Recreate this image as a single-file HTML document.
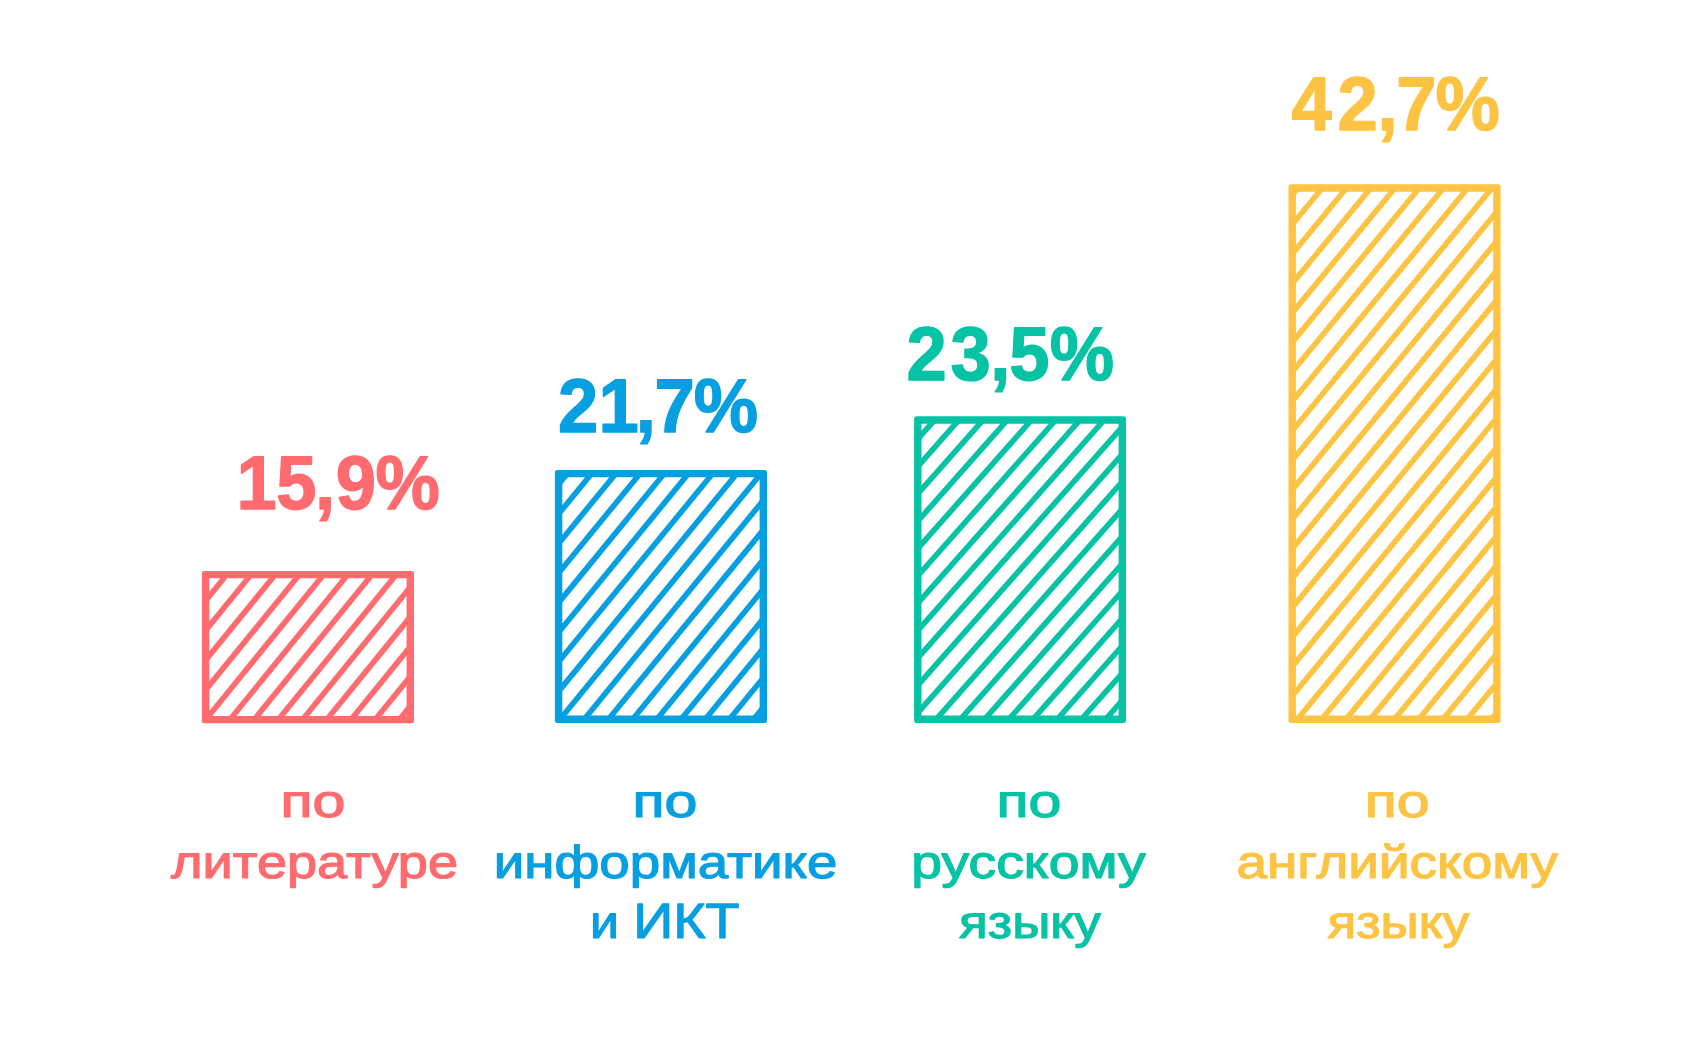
<!DOCTYPE html>
<html lang="ru"><head><meta charset="utf-8">
<style>
html,body{margin:0;padding:0;background:#ffffff;}
body{width:1706px;height:1049px;overflow:hidden;}
svg{display:block;}
svg text{font-family:"Liberation Sans",sans-serif;font-weight:700;stroke-linejoin:round;white-space:pre;text-rendering:geometricPrecision;}
</style></head><body>
<svg width="1706" height="1049" viewBox="0 0 1706 1049">
<rect width="1706" height="1049" fill="#ffffff"/>
<clipPath id="cp0"><rect x="208.30" y="577.30" width="199.30" height="139.60"/></clipPath>
<path d="M75.54 730.90L211.80 563.30M99.74 730.90L236.00 563.30M123.95 730.90L260.21 563.30M148.15 730.90L284.41 563.30M172.36 730.90L308.62 563.30M196.56 730.90L332.82 563.30M220.77 730.90L357.03 563.30M244.97 730.90L381.23 563.30M269.18 730.90L405.44 563.30M293.38 730.90L429.64 563.30M317.59 730.90L453.85 563.30M341.79 730.90L478.05 563.30M366.00 730.90L502.26 563.30M390.20 730.90L526.46 563.30" stroke="#ff6b6e" stroke-width="5.6" fill="none" clip-path="url(#cp0)"/>
<path d="M204.40 570.90H411.50A2.5 2.5 0 0 1 414.00 573.40V720.80A2.5 2.5 0 0 1 411.50 723.30H204.40A2.5 2.5 0 0 1 201.90 720.80V573.40A2.5 2.5 0 0 1 204.40 570.90ZM209.30 578.30V715.90H406.60V578.30Z" fill="#ff6b6e" fill-rule="evenodd"/>
<clipPath id="cp1"><rect x="561.30" y="476.30" width="199.30" height="240.30"/></clipPath>
<path d="M357.17 730.60L576.64 462.30M381.37 730.60L600.84 462.30M405.57 730.60L625.04 462.30M429.77 730.60L649.24 462.30M453.97 730.60L673.44 462.30M478.17 730.60L697.64 462.30M502.37 730.60L721.84 462.30M526.57 730.60L746.04 462.30M550.77 730.60L770.24 462.30M574.97 730.60L794.44 462.30M599.17 730.60L818.64 462.30M623.37 730.60L842.84 462.30M647.57 730.60L867.04 462.30M671.77 730.60L891.24 462.30M695.97 730.60L915.44 462.30M720.17 730.60L939.64 462.30M744.37 730.60L963.84 462.30" stroke="#069fe1" stroke-width="5.6" fill="none" clip-path="url(#cp1)"/>
<path d="M557.40 469.90H764.50A2.5 2.5 0 0 1 767.00 472.40V720.50A2.5 2.5 0 0 1 764.50 723.00H557.40A2.5 2.5 0 0 1 554.90 720.50V472.40A2.5 2.5 0 0 1 557.40 469.90ZM562.30 477.30V715.60H759.60V477.30Z" fill="#069fe1" fill-rule="evenodd"/>
<clipPath id="cp2"><rect x="920.50" y="422.70" width="199.10" height="293.80"/></clipPath>
<path d="M635.66 730.50L920.43 408.70M659.87 730.50L944.65 408.70M684.09 730.50L968.86 408.70M708.30 730.50L993.08 408.70M732.52 730.50L1017.29 408.70M756.73 730.50L1041.51 408.70M780.95 730.50L1065.72 408.70M805.16 730.50L1089.94 408.70M829.38 730.50L1114.15 408.70M853.59 730.50L1138.37 408.70M877.81 730.50L1162.58 408.70M902.02 730.50L1186.80 408.70M926.24 730.50L1211.01 408.70M950.45 730.50L1235.23 408.70M974.67 730.50L1259.44 408.70M998.88 730.50L1283.66 408.70M1023.10 730.50L1307.87 408.70M1047.31 730.50L1332.09 408.70M1071.53 730.50L1356.30 408.70M1095.74 730.50L1380.52 408.70M1119.96 730.50L1404.73 408.70" stroke="#05c3a4" stroke-width="5.6" fill="none" clip-path="url(#cp2)"/>
<path d="M916.60 416.30H1123.50A2.5 2.5 0 0 1 1126.00 418.80V720.40A2.5 2.5 0 0 1 1123.50 722.90H916.60A2.5 2.5 0 0 1 914.10 720.40V418.80A2.5 2.5 0 0 1 916.60 416.30ZM921.50 423.70V715.50H1118.60V423.70Z" fill="#05c3a4" fill-rule="evenodd"/>
<clipPath id="cp3"><rect x="1294.90" y="190.65" width="199.30" height="525.95"/></clipPath>
<path d="M851.59 730.60L1307.33 176.65M875.84 730.60L1331.58 176.65M900.09 730.60L1355.83 176.65M924.34 730.60L1380.08 176.65M948.59 730.60L1404.33 176.65M972.84 730.60L1428.58 176.65M997.09 730.60L1452.83 176.65M1021.34 730.60L1477.08 176.65M1045.59 730.60L1501.33 176.65M1069.84 730.60L1525.58 176.65M1094.09 730.60L1549.83 176.65M1118.34 730.60L1574.08 176.65M1142.59 730.60L1598.33 176.65M1166.84 730.60L1622.58 176.65M1191.09 730.60L1646.83 176.65M1215.34 730.60L1671.08 176.65M1239.59 730.60L1695.33 176.65M1263.84 730.60L1719.58 176.65M1288.09 730.60L1743.83 176.65M1312.34 730.60L1768.08 176.65M1336.59 730.60L1792.33 176.65M1360.84 730.60L1816.58 176.65M1385.09 730.60L1840.83 176.65M1409.34 730.60L1865.08 176.65M1433.59 730.60L1889.33 176.65M1457.84 730.60L1913.58 176.65M1482.09 730.60L1937.83 176.65" stroke="#fdc342" stroke-width="5.6" fill="none" clip-path="url(#cp3)"/>
<path d="M1291.00 184.25H1498.10A2.5 2.5 0 0 1 1500.60 186.75V720.50A2.5 2.5 0 0 1 1498.10 723.00H1291.00A2.5 2.5 0 0 1 1288.50 720.50V186.75A2.5 2.5 0 0 1 1291.00 184.25ZM1295.90 191.65V715.60H1493.20V191.65Z" fill="#fdc342" fill-rule="evenodd"/>
<text transform="scale(0.9500 1)" x="248.85 290.88 331.49 353.50 395.27" y="509.20" font-size="76.16" fill="#ff6b6e" stroke="#ff6b6e" stroke-width="1.40">15,9%</text>
<text transform="scale(0.9500 1)" x="587.32 630.02 669.22 689.07 730.32" y="431.80" font-size="76.16" fill="#069fe1" stroke="#069fe1" stroke-width="1.40">21,7%</text>
<text transform="scale(0.9500 1)" x="954.16 1000.64 1042.28 1062.48 1104.96" y="380.40" font-size="76.16" fill="#05c3a4" stroke="#05c3a4" stroke-width="1.40">23,5%</text>
<text transform="scale(0.9500 1)" x="1359.55 1407.97 1449.91 1469.70 1510.96" y="130.00" font-size="76.16" fill="#fdc342" stroke="#fdc342" stroke-width="1.40">42,7%</text>
<text transform="scale(1.2791 1)" x="219.37" y="817.10" font-size="46.19" font-weight="400" style="font-weight:400" fill="#ff6b6e" stroke="#ff6b6e" stroke-width="1.20">по</text>
<text transform="scale(1.1713 1)" x="145.99" y="877.80" font-size="46.19" font-weight="400" style="font-weight:400" fill="#ff6b6e" stroke="#ff6b6e" stroke-width="1.20">литературе</text>
<text transform="scale(1.2791 1)" x="494.55" y="817.10" font-size="46.19" font-weight="400" style="font-weight:400" fill="#069fe1" stroke="#069fe1" stroke-width="1.20">по</text>
<text transform="scale(1.1829 1)" x="417.40" y="877.80" font-size="46.19" font-weight="400" style="font-weight:400" fill="#069fe1" stroke="#069fe1" stroke-width="1.20">информатике</text>
<text transform="scale(1.1217 1)" x="525.90" y="937.80" font-size="46.19" font-weight="400" style="font-weight:400" fill="#069fe1" stroke="#069fe1" stroke-width="1.20">и <tspan font-size="49.56">ИКТ</tspan></text>
<text transform="scale(1.2791 1)" x="779.12" y="817.10" font-size="46.19" font-weight="400" style="font-weight:400" fill="#05c3a4" stroke="#05c3a4" stroke-width="1.20">по</text>
<text transform="scale(1.1985 1)" x="760.32" y="877.80" font-size="46.19" font-weight="400" style="font-weight:400" fill="#05c3a4" stroke="#05c3a4" stroke-width="1.20">русскому</text>
<text transform="scale(1.1508 1)" x="833.32" y="937.80" font-size="46.19" font-weight="400" style="font-weight:400" fill="#05c3a4" stroke="#05c3a4" stroke-width="1.20">языку</text>
<text transform="scale(1.2791 1)" x="1067.04" y="817.10" font-size="46.19" font-weight="400" style="font-weight:400" fill="#fdc342" stroke="#fdc342" stroke-width="1.20">по</text>
<text transform="scale(1.1892 1)" x="1039.74" y="877.80" font-size="46.19" font-weight="400" style="font-weight:400" fill="#fdc342" stroke="#fdc342" stroke-width="1.20">английскому</text>
<text transform="scale(1.1508 1)" x="1153.53" y="937.80" font-size="46.19" font-weight="400" style="font-weight:400" fill="#fdc342" stroke="#fdc342" stroke-width="1.20">языку</text>
</svg>
</body></html>
